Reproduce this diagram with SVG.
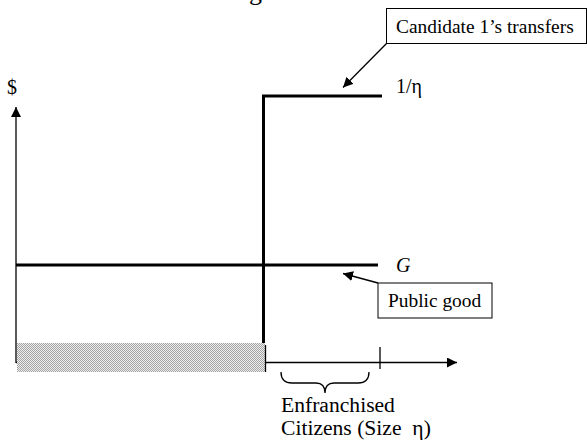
<svg xmlns="http://www.w3.org/2000/svg" width="587" height="445" viewBox="0 0 587 445">
<style>
.t{font-family:"Liberation Serif","Times New Roman",serif;fill:#000}
.thick{stroke:#000;stroke-width:3;fill:none}
.thin{stroke:#000;stroke-width:1.3;fill:none}
.box{fill:#fff;stroke:#000;stroke-width:1}
</style>
<defs>
<pattern id="dots" width="2" height="2" patternUnits="userSpaceOnUse">
<rect width="2" height="2" fill="#eeeeee"/>
<rect width="1" height="1" fill="#a4a4a4"/>
<rect x="1" y="1" width="1" height="1" fill="#a4a4a4"/>
</pattern>
<marker id="ah" viewBox="0 0 10 10" refX="10" refY="5" markerWidth="10" markerHeight="10" markerUnits="userSpaceOnUse" orient="auto">
<path d="M0,0 L10,5 L0,10 z" fill="#000"/>
</marker>
<marker id="ahs" viewBox="0 0 10 10" refX="10" refY="5" markerWidth="13" markerHeight="10" markerUnits="userSpaceOnUse" orient="auto">
<path d="M0,0 L10,5 L0,10 z" fill="#000"/>
</marker>
</defs>
<rect width="587" height="445" fill="#fff"/>
<text class="t" x="249" y="-0.5" font-size="26">g</text>
<g id="connectors">
<line class="thin" x1="16" y1="363" x2="16" y2="107" marker-end="url(#ahs)"/>
<line class="thin" x1="16" y1="362.5" x2="457" y2="362.5" marker-end="url(#ahs)"/>
<line class="thin" x1="380" y1="347" x2="380" y2="369"/>
<line class="thin" x1="386.5" y1="43.5" x2="343" y2="87.5" marker-end="url(#ah)"/>
<line class="thin" x1="378" y1="283" x2="343" y2="273.5" marker-end="url(#ah)"/>
<path class="thin" d="M281,372 Q281,383 292,383 L316,383 Q325,383 325,393 Q325,383 334,383 L358,383 Q369,383 369,372"/>
</g>
<g id="shaded">
<rect x="17" y="343" width="248" height="29" fill="url(#dots)"/>
<line class="thin" x1="265.5" y1="345" x2="265.5" y2="372"/>
</g>
<g id="curves">
<line class="thick" x1="16" y1="265" x2="378" y2="265"/>
<line class="thick" x1="263.5" y1="95" x2="263.5" y2="343"/>
<line class="thick" x1="262" y1="96" x2="382" y2="96"/>
</g>
<g id="labels">
<text class="t" x="7" y="94" font-size="20">$</text>
<text class="t" x="396" y="93" font-size="20">1/η</text>
<text class="t" x="396" y="272" font-size="20" font-style="italic">G</text>
<text class="t" x="281" y="412" font-size="21.6">Enfranchised</text>
<text class="t" x="281" y="435" font-size="21.6" xml:space="preserve">Citizens (Size  η)</text>
</g>
<g id="candidate-box">
<rect class="box" x="386.5" y="8.5" width="200" height="35"/>
<text class="t" x="396" y="33" font-size="19.4">Candidate 1’s transfers</text>
</g>
<g id="public-good-box">
<rect class="box" x="378" y="283" width="114" height="35"/>
<text class="t" x="388" y="307" font-size="19.4">Public good</text>
</g>
</svg>
